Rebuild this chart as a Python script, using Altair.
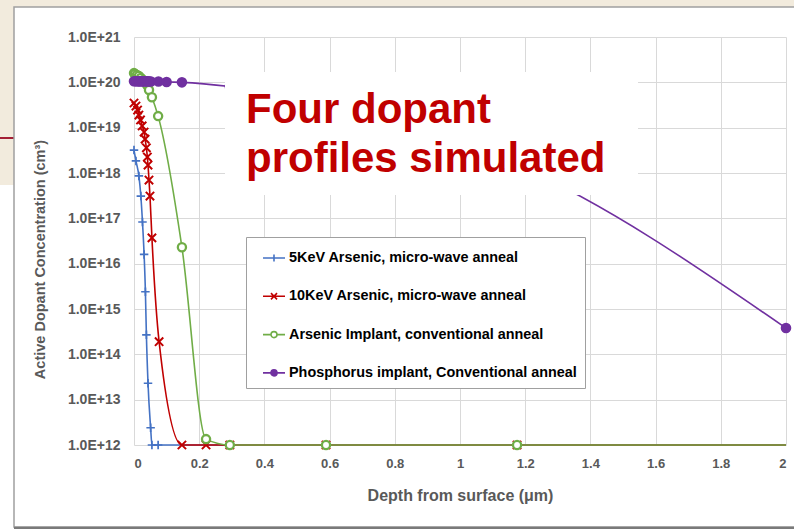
import altair as alt
import pandas as pd

# ---- profile data: depth (um) and active dopant concentration (cm^-3) ----
series_names = [
    "5KeV Arsenic, micro-wave anneal",
    "10KeV Arsenic,  micro-wave anneal",
    "Arsenic Implant, conventional anneal",
    "Phosphorus implant, Conventional anneal",
]
series_colors = ["#4472c4", "#c00000", "#70ad47", "#7030a0"]

as5_depth = [0.000, 0.006, 0.015, 0.021, 0.026, 0.031, 0.035, 0.038, 0.043, 0.051, 0.055, 0.074, 2.0]
as5_conc = [3.2e18, 1.85e18, 8.6e17, 3.1e17, 8.3e16, 1.6e16, 2.4e15, 2.7e14, 2.3e13, 2.4e12, 1e12, 1e12, 1e12]

as10_depth = [0.000, 0.006, 0.011, 0.015, 0.020, 0.025, 0.031, 0.034, 0.038, 0.041, 0.043,
              0.046, 0.049, 0.055, 0.077, 0.147, 0.221, 0.294, 0.589, 1.175, 2.0]
as10_conc = [3.5e19, 3.0e19, 2.45e19, 1.9e19, 1.48e19, 1.09e19, 8.0e18, 5.6e18, 3.6e18, 2.25e18, 1.5e18,
             7.0e17, 3.1e17, 3.7e16, 1.9e14, 1e12, 1e12, 1e12, 1e12, 1e12, 1e12]

asconv_depth = [0.000, 0.003, 0.009, 0.015, 0.021, 0.028, 0.034, 0.040, 0.046, 0.055, 0.074,
                0.147, 0.221, 0.294, 0.589, 1.175, 2.0]
asconv_conc = [1.6e20, 1.53e20, 1.45e20, 1.38e20, 1.25e20, 1.12e20, 1.02e20, 8.7e19, 6.8e19, 4.7e19, 1.8e19,
               2.3e16, 1.35e12, 1e12, 1e12, 1e12, 1e12]

phos_depth = [0.000, 0.005, 0.009, 0.014, 0.018, 0.023, 0.028, 0.032, 0.037, 0.041, 0.046, 0.052,
              0.075, 0.100, 0.147, 0.294, 0.589, 1.175, 2.0]
phos_conc = [1.06e20, 1.06e20, 1.06e20, 1.05e20, 1.05e20, 1.05e20, 1.05e20, 1.05e20, 1.05e20, 1.05e20,
             1.05e20, 1.04e20, 1.04e20, 1.02e20, 1.0e20, 8.1e19, 3.3e19, 1.5e18, 3.8e14]

x_ticks = [0, 0.2, 0.4, 0.6, 0.8, 1, 1.2, 1.4, 1.6, 1.8, 2]
y_ticks = [1e12, 1e13, 1e14, 1e15, 1e16, 1e17, 1e18, 1e19, 1e20, 1e21]

rows = []
for name, dep, con in zip(series_names,
                          [as5_depth, as10_depth, asconv_depth, phos_depth],
                          [as5_conc, as10_conc, asconv_conc, phos_conc]):
    for d, c in zip(dep, con):
        rows.append({"series": name, "depth": d, "conc": c})
df = pd.DataFrame(rows)

# ---- marker styles ----
PLUS = "M-1,0H1M0,-1V1"
XMARK = "M-1,-1L1,1M-1,1L1,-1"
marker_shapes = [PLUS, XMARK, "circle", "circle"]
marker_fills = ["transparent", "transparent", "white", "#7030a0"]
marker_sizes = [72, 64, 52, 45]
marker_widths = [1.7, 2.6, 1.6, 1.5]

# legend keys: short line segment with the marker drawn on it
legend_shapes = [
    "M-0.333,0H1.5M0.583,-0.3V0.3",
    "M-0.333,0H1.5M0.33,-0.26L0.836,0.26M0.33,0.26L0.836,-0.26",
    "M-0.333,0H0.333M0.833,0H1.5M0.333,0A0.25,0.25,0,1,1,0.833,0A0.25,0.25,0,1,1,0.333,0Z",
    "M-0.333,0H0.333M0.833,0H1.5M0.333,0A0.25,0.25,0,1,1,0.833,0A0.25,0.25,0,1,1,0.333,0Z",
]

FONT = "Liberation Sans"
GRAY_TXT = "#595959"

W, H = 652, 408

x_enc = alt.X(
    "depth:Q",
    scale=alt.Scale(domain=[0, 2], nice=False, zero=False),
    axis=alt.Axis(
        values=x_ticks, format="~g", title="Depth from surface (μm)",
        grid=True, gridColor="#d9d9d9", gridWidth=1, domain=False, ticks=False, tickSize=0,
        labelFont=FONT, labelFontSize=13, labelFontWeight="bold", labelColor=GRAY_TXT, labelPadding=12,
        titleFont=FONT, titleFontSize=16, titleFontWeight="bold", titleColor=GRAY_TXT,
        titleX=W / 2, titleY=50, titleBaseline="middle", titleAlign="center",
    ),
)
y_enc = alt.Y(
    "conc:Q",
    scale=alt.Scale(type="log", domain=[1e12, 1e21], nice=False),
    axis=alt.Axis(
        values=y_ticks, labelExpr="'1.0E+' + round(log(datum.value) / LN10)",
        title="Active Dopant Concentration (cm³)",
        grid=True, gridColor="#d9d9d9", gridWidth=1, domain=False, ticks=False, tickSize=0,
        labelFont=FONT, labelFontSize=14, labelFontWeight="bold", labelColor=GRAY_TXT, labelPadding=14,
        titleFont=FONT, titleFontSize=14.5, titleFontWeight="bold", titleColor=GRAY_TXT,
        titleX=-94, titleY=222, titleAngle=270, titleBaseline="middle", titleAlign="center",
    ),
)

one = pd.DataFrame({"k": [0]})

# slide backdrop around the chart panel
top_strip = alt.Chart(one).mark_rect(color="#f2ebdd").encode(
    x=alt.value(-134), x2=alt.value(670), y=alt.value(-37), y2=alt.value(-30))
left_strip = alt.Chart(one).mark_rect(color="#f2ebdd").encode(
    x=alt.value(-134), x2=alt.value(-120), y=alt.value(-37), y2=alt.value(148))
red_rule = alt.Chart(one).mark_rule(color="#a31f34", strokeWidth=2).encode(
    x=alt.value(-134), x2=alt.value(-120), y=alt.value(101))
panel = alt.Chart(one).mark_rect(fillOpacity=0, stroke="#a0a0a0", strokeWidth=1.5).encode(
    x=alt.value(-120), x2=alt.value(700), y=alt.value(-30), y2=alt.value(490))
bottom_rule = alt.Chart(one).mark_rule(color="#7a7a7a", strokeWidth=2.5).encode(
    x=alt.value(-120), x2=alt.value(670), y=alt.value(491))

lines = alt.Chart(df).mark_line(interpolate="monotone", strokeWidth=1.6).encode(
    x=x_enc, y=y_enc,
    color=alt.Color("series:N", scale=alt.Scale(domain=series_names, range=series_colors), legend=None),
    order="depth:Q",
)

points = alt.Chart(df).transform_filter(
    "!(datum.depth >= 2 && datum.conc <= 1e12)"
).mark_point(opacity=1).encode(
    x=x_enc, y=y_enc,
    shape=alt.Shape("series:N", scale=alt.Scale(domain=series_names, range=marker_shapes), legend=None),
    stroke=alt.Stroke("series:N", scale=alt.Scale(domain=series_names, range=series_colors), legend=None),
    fill=alt.Fill("series:N", scale=alt.Scale(domain=series_names, range=marker_fills), legend=None),
    size=alt.Size("series:N", scale=alt.Scale(domain=series_names, range=marker_sizes), legend=None),
    strokeWidth=alt.StrokeWidth("series:N", scale=alt.Scale(domain=series_names, range=marker_widths), legend=None),
)

# callout box with the headline text
callout_bg = alt.Chart(one).mark_rect(color="white").encode(
    x=alt.value(91), x2=alt.value(504), y=alt.value(35), y2=alt.value(158))
callout_1 = alt.Chart(one).mark_text(
    text="Four dopant", font=FONT, fontSize=42, fontWeight="bold", color="#c00000",
    align="left", baseline="alphabetic").encode(x=alt.value(112), y=alt.value(86))
callout_2 = alt.Chart(one).mark_text(
    text="profiles simulated", font=FONT, fontSize=42, fontWeight="bold", color="#c00000",
    align="left", baseline="alphabetic").encode(x=alt.value(112), y=alt.value(135))

# legend
legend = alt.Legend(
    orient="none", legendX=112, legendY=200, title=None, direction="vertical",
    padding=8, fillColor="white", strokeColor="#a0a0a0",
    symbolSize=576, symbolStrokeWidth=1.6, symbolOpacity=1, rowPadding=18.3,
    labelFont=FONT, labelFontSize=14.4, labelFontWeight="bold", labelColor="black",
    labelOffset=9, labelLimit=500,
)
legend_df = pd.DataFrame({"entry": series_names})
legend_layer = alt.Chart(legend_df).mark_point(opacity=0).encode(
    fill=alt.Fill("entry:N", scale=alt.Scale(domain=series_names, range=marker_fills), legend=legend),
    stroke=alt.Stroke("entry:N", scale=alt.Scale(domain=series_names, range=series_colors), legend=legend),
    shape=alt.Shape("entry:N", scale=alt.Scale(domain=series_names, range=legend_shapes), legend=legend),
)

chart = alt.layer(
    top_strip, left_strip, red_rule, panel, bottom_rule,
    lines, points, callout_bg, callout_1, callout_2, legend_layer,
).resolve_scale(
    shape="independent", stroke="independent", fill="independent",
).properties(
    width=W, height=H,
    padding={"left": 134, "top": 37, "right": 8, "bottom": 84},
    autosize=alt.AutoSizeParams(type="none"),
    background="white",
).configure_view(strokeWidth=0)

chart.save("out.html", embed_options={"renderer": "svg", "actions": False})
